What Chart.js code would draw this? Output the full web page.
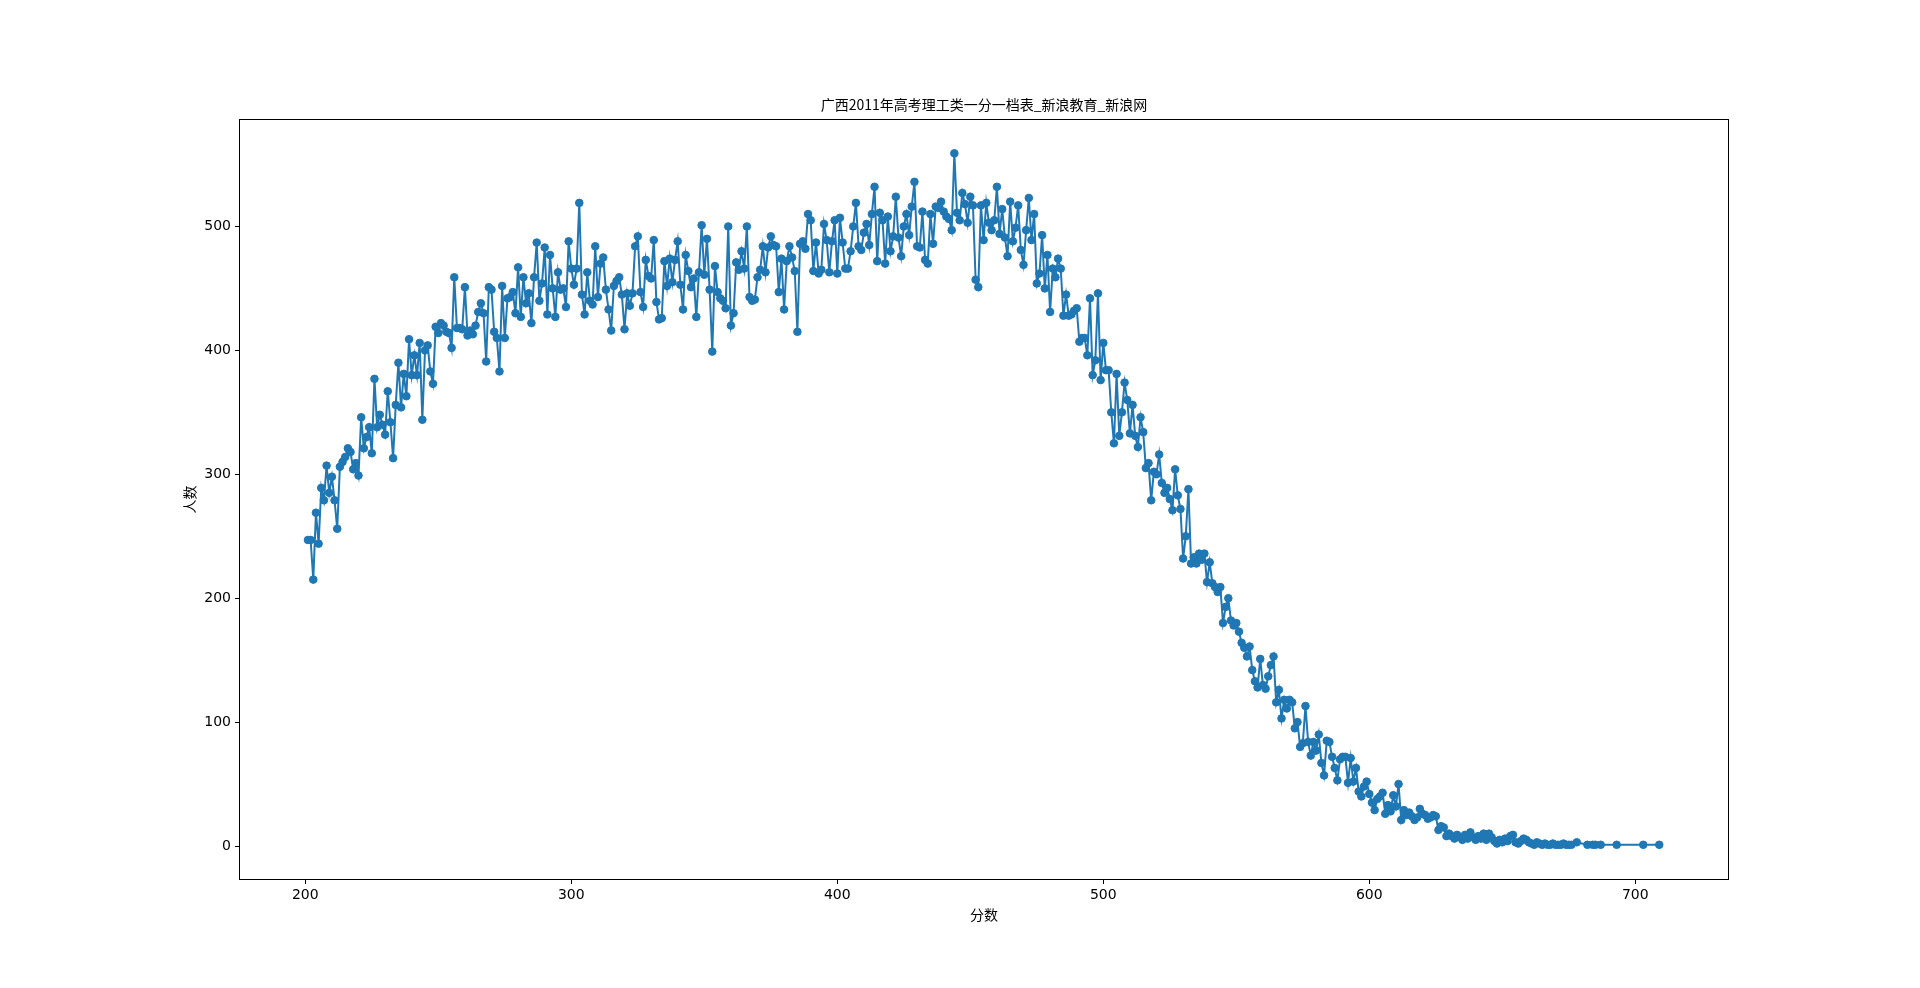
<!DOCTYPE html>
<html>
<head>
<meta charset="utf-8">
<title>广西2011年高考理工类一分一档表</title>
<script src="https://cdn.jsdelivr.net/npm/chart.js@4.4.0/dist/chart.umd.min.js"></script>
<style>
    html, body { margin: 0; padding: 0; background: #fff; }
    canvas { display: block; }
</style>
</head>
<body>
<canvas id="scoreChart" width="1920" height="988"></canvas>
<script>
// 一分一档: consecutive scores from firstScore, one count per score
const firstScore = 201;
const counts = [
    247, 247, 215, 269, 244, 289, 279, 307, 285, 298,   // 201-210
    279, 256, 306, 310, 314, 321, 318, 304, 309, 299,   // 211-220
    346, 321, 330, 338, 317, 377, 338, 348, 340, 332,   // 221-230
    367, 342, 313, 356, 390, 354, 381, 363, 409, 380,   // 231-240
    396, 380, 406, 344, 400, 404, 383, 373, 419, 414,   // 241-250
    422, 420, 415, 414, 402, 459, 418, 418, 417, 451,   // 251-260
    412, 416, 413, 420, 431, 438, 430, 391, 451, 449,   // 261-270
    415, 410, 383, 452, 410, 442, 443, 447, 430, 467,   // 271-280
    427, 459, 438, 446, 422, 459, 487, 440, 454, 483,   // 281-290
    429, 477, 450, 427, 463, 449, 450, 435, 488, 466,   // 291-300
    453, 466, 519, 445, 429, 463, 440, 437, 484, 443,   // 301-310
    470, 475, 449, 433, 416, 452, 456, 459, 445, 417,   // 311-320
    446, 436, 446, 484, 492, 447, 435, 473, 460, 458,   // 321-330
    489, 439, 425, 426, 472, 452, 474, 455, 473, 488,   // 331-340
    453, 433, 477, 464, 451, 458, 427, 463, 501, 461,   // 341-350
    490, 449, 399, 468, 447, 442, 440, 434, 500, 420,   // 351-360
    430, 471, 465, 480, 466, 500, 443, 440, 441, 459,   // 361-370
    465, 484, 463, 483, 492, 485, 484, 447, 474, 433,   // 371-380
    472, 484, 475, 464, 415, 486, 488, 482, 510, 505,   // 381-390
    464, 487, 462, 465, 502, 489, 463, 488, 505, 462,   // 391-400
    507, 487, 466, 466, 480, 500, 519, 484, 481, 495,   // 401-410
    502, 485, 510, 532, 472, 511, 505, 470, 508, 480,   // 411-420
    492, 524, 491, 476, 500, 510, 493, 516, 536, 484,   // 421-430
    483, 512, 473, 470, 510, 486, 516, 515, 520, 512,   // 431-440
    508, 506, 497, 559, 511, 505, 527, 518, 503, 524,   // 441-450
    517, 457, 451, 517, 489, 519, 503, 497, 505, 532,   // 451-460
    494, 514, 491, 476, 520, 488, 499, 517, 481, 469,   // 461-470
    497, 523, 489, 510, 454, 462, 493, 450, 477, 431,   // 471-480
    466, 459, 474, 466, 428, 445, 428, 429, 432, 434,   // 481-490
    407, 410, 410, 396, 442, 380, 392, 446, 376, 406,   // 491-500
    384, 384, 350, 325, 381, 331, 350, 374, 360, 333,   // 501-510
    356, 331, 322, 346, 334, 305, 309, 279, 302, 300,   // 511-520
    316, 293, 285, 289, 280, 271, 304, 283, 272, 232,   // 521-530
    250, 288, 228, 233, 228, 236, 231, 236, 213, 229,   // 531-540
    212, 209, 205, 209, 180, 193, 200, 182, 178, 180,   // 541-550
    173, 164, 160, 153, 161, 142, 133, 128, 151, 130,   // 551-560
    127, 137, 146, 153, 116, 126, 103, 118, 111, 118,   // 561-570
    116, 95, 100, 80, 83, 113, 84, 73, 84, 77,          // 571-580
    90, 67, 57, 85, 84, 72, 63, 53, 70, 72,             // 581-590
    72, 51, 71, 52, 63, 44, 40, 48, 52, 42,             // 591-600
    35, 29, 38, 40, 43, 26, 33, 28, 41, 32,             // 601-610
    50, 21, 29, 25, 27, 24, 21, 23, 30, 26,             // 611-620
    25, 22, 23, 25, 24, 13, 16, 15, 8, 10,              // 621-630
    8, 6, 9, 7, 5, 9, 6, 11, 7, 5,                      // 631-640
    8, 6, 10, 5, 10, 7, 4, 2, 5, 3,                     // 641-650
    6, 4, 8, 9, 3, 2, 4, 6, 5, 3,                       // 651-660
    2, 1, 3, 2, 1, 2, 1, 1, 2, 1,                       // 661-670
    1, 1, 2, 1, 1, 1                                    // 671-676
];
// sparse top scores
const tailScores = [678, 682, 684, 685, 687, 693, 703, 709];
const tailCounts = [3, 1, 1, 1, 1, 1, 1, 1];

const xTicks = [200, 300, 400, 500, 600, 700];
const yTicks = [0, 100, 200, 300, 400, 500];

const TITLE = '广西2011年高考理工类一分一档表_新浪教育_新浪网';
const X_LABEL = '分数';
const Y_LABEL = '人数';
const BLUE = '#1f77b4';

const points = counts.map((v, i) => ({ x: firstScore + i, y: v }))
    .concat(tailScores.map((s, i) => ({ x: s, y: tailCounts[i] })));

const TICK_FONT = { family: 'DejaVu Sans', size: 14 };

const framePlugin = {
    id: 'frame',
    beforeDraw(chart) {
        const ctx = chart.ctx;
        ctx.save();
        ctx.fillStyle = '#fff';
        ctx.fillRect(0, 0, chart.width, chart.height);
        ctx.restore();
    },
    afterDraw(chart) {
        const { ctx, chartArea: a } = chart;
        ctx.save();
        ctx.strokeStyle = '#000';
        ctx.lineWidth = 1;
        ctx.strokeRect(Math.round(a.left) - 0.5, Math.round(a.top) - 0.5,
            Math.round(a.right - a.left) + 1, Math.round(a.bottom - a.top) + 1);

        ctx.fillStyle = '#000';
        ctx.textAlign = 'center';
        ctx.textBaseline = 'middle';
        ctx.font = '14px "Noto Sans CJK SC"';
        const cx = (a.left + a.right) / 2;
        ctx.fillText(TITLE, cx, 105);
        ctx.fillText(X_LABEL, cx, 915);
        ctx.translate(190, (a.top + a.bottom) / 2);
        ctx.rotate(-Math.PI / 2);
        ctx.fillText(Y_LABEL, 0, 0);
        ctx.restore();
    }
};

new Chart(document.getElementById('scoreChart'), {
    type: 'line',
    data: {
        datasets: [{
            data: points,
            borderColor: BLUE,
            borderWidth: 2,
            backgroundColor: BLUE,
            pointBackgroundColor: BLUE,
            pointBorderColor: BLUE,
            pointRadius: 3.8,
            pointBorderWidth: 1,
            tension: 0,
            fill: false
        }]
    },
    options: {
        responsive: false,
        animation: false,
        devicePixelRatio: 1,
        layout: { padding: { top: 120, right: 192, left: 0, bottom: 0 } },
        plugins: {
            legend: { display: false },
            tooltip: { enabled: false },
            title: { display: false }
        },
        scales: {
            x: {
                type: 'linear',
                min: 175.45,
                max: 734.85,
                afterFit: s => { s.height = 109; },
                afterBuildTicks: s => { s.ticks = xTicks.map(v => ({ value: v })); },
                grid: { drawOnChartArea: false, drawTicks: true, tickLength: 5, tickColor: '#000', tickWidth: 1 },
                border: { display: false },
                ticks: { color: '#000', font: TICK_FONT, padding: 3, maxRotation: 0, autoSkip: false }
            },
            y: {
                type: 'linear',
                min: -26.6,
                max: 585.9,
                afterFit: s => { s.width = 240; },
                afterBuildTicks: s => { s.ticks = yTicks.map(v => ({ value: v })); },
                grid: { drawOnChartArea: false, drawTicks: true, tickLength: 5, tickColor: '#000', tickWidth: 1 },
                border: { display: false },
                ticks: { color: '#000', font: TICK_FONT, padding: 4, autoSkip: false }
            }
        }
    },
    plugins: [framePlugin]
});
</script>
</body>
</html>
